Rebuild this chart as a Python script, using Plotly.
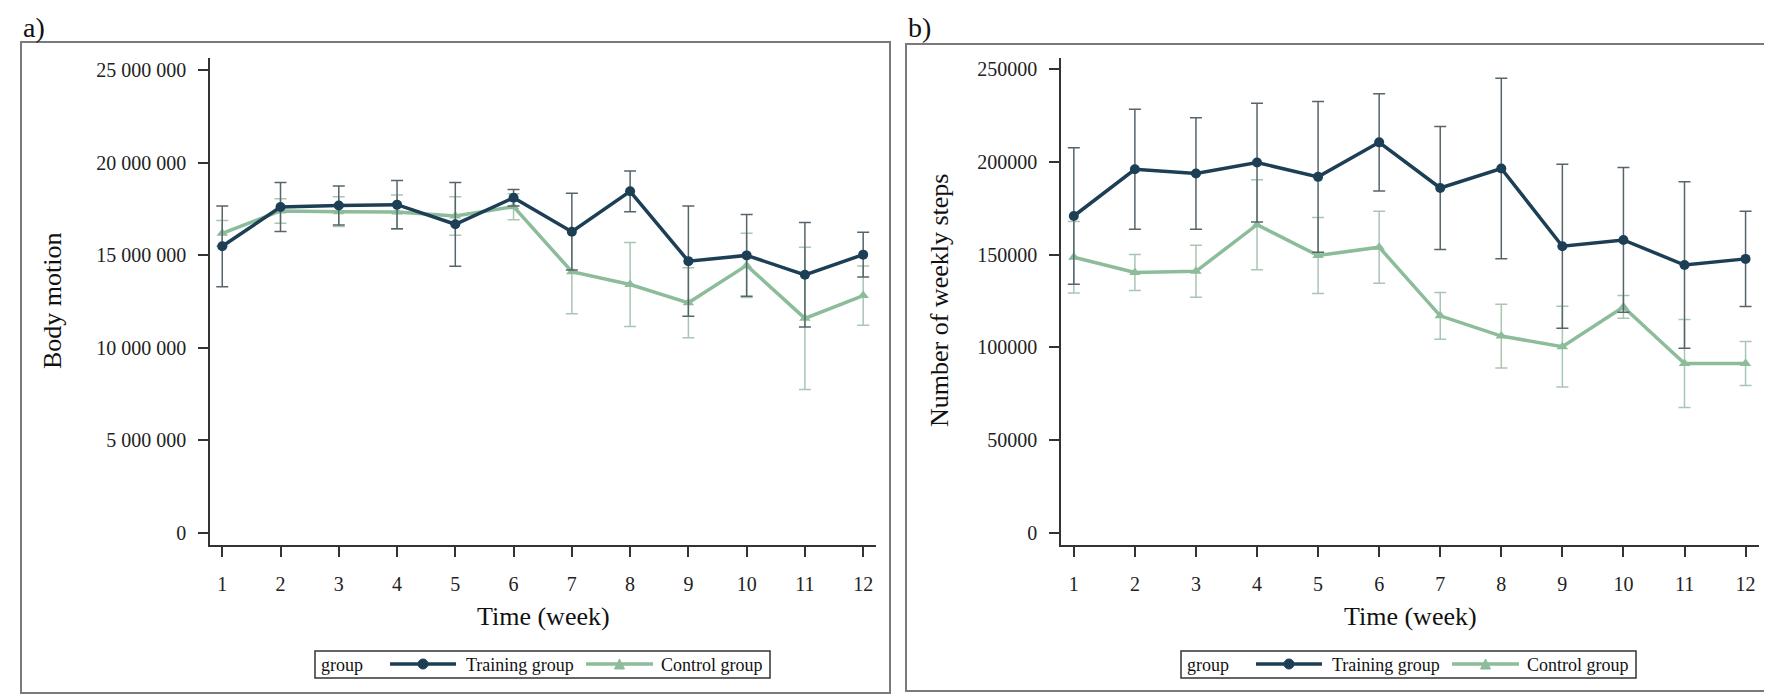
import plotly.graph_objects as go
from plotly.subplots import make_subplots

weeks = list(range(1, 13))

# body motion (a)
motion_training = [15.48e6, 17.60e6, 17.68e6, 17.73e6, 16.67e6, 18.10e6,
                   16.27e6, 18.45e6, 14.68e6, 14.99e6, 13.94e6, 15.03e6]
motion_training_err = [2.18e6, 1.32e6, 1.05e6, 1.30e6, 2.26e6, 0.45e6,
                       2.07e6, 1.10e6, 2.97e6, 2.21e6, 2.82e6, 1.21e6]
motion_control = [16.18e6, 17.39e6, 17.35e6, 17.33e6, 17.12e6, 17.62e6,
                  14.11e6, 13.42e6, 12.43e6, 14.45e6, 11.59e6, 12.82e6]
motion_control_err = [0.70e6, 0.66e6, 0.80e6, 0.92e6, 1.04e6, 0.70e6,
                      2.27e6, 2.27e6, 1.89e6, 1.73e6, 3.84e6, 1.60e6]

# weekly steps (b)
steps_training = [170800, 196000, 193700, 199600, 191900, 210500,
                  185900, 196400, 154500, 157900, 144400, 147700]
steps_training_err = [36800, 32300, 30000, 32000, 40600, 26200,
                      33200, 48600, 44200, 39000, 44800, 25700]
steps_control = [148600, 140400, 141000, 166100, 149500, 154000,
                 117000, 106100, 100400, 121800, 91300, 91300]
steps_control_err = [19300, 9700, 14000, 24200, 20500, 19400,
                     12600, 17200, 21800, 6100, 23700, 11900]

group_names = ["Training group", "Control group"]

W, H = 1772, 694
FONT = "Liberation Serif"
DARK = "#1d3f56"
DARK_ERR = "#56656c"
GREEN = "#8cbc9a"
GREEN_ERR = "#a9c6b3"


def px(x):
    return x / W


def py(y):
    return 1 - y / H


fig = make_subplots(rows=1, cols=2)

panels = [
    (1, motion_training, motion_training_err, motion_control, motion_control_err),
    (2, steps_training, steps_training_err, steps_control, steps_control_err),
]
for col, tr, tr_err, ct, ct_err in panels:
    fig.add_trace(go.Scatter(
        x=weeks, y=ct, name=group_names[1], mode="lines+markers",
        line=dict(color=GREEN, width=3.5),
        marker=dict(symbol="triangle-up", size=10, color=GREEN),
        error_y=dict(type="data", array=ct_err, color=GREEN_ERR, thickness=1.5, width=6),
        showlegend=False), row=1, col=col)
    fig.add_trace(go.Scatter(
        x=weeks, y=tr, name=group_names[0], mode="lines+markers",
        line=dict(color=DARK, width=3.5),
        marker=dict(symbol="circle", size=10, color=DARK),
        error_y=dict(type="data", array=tr_err, color=DARK_ERR, thickness=1.5, width=6),
        showlegend=False), row=1, col=col)

axis_common = dict(showgrid=False, zeroline=False, showline=True, linecolor="#333333",
                   linewidth=1.5, ticks="outside", tickcolor="#333333", tickwidth=1.5,
                   ticklen=10, tickfont=dict(family=FONT, size=20, color="#222222"))

ydom = [py(537), py(50)]
fig.update_xaxes(axis_common, range=[0.79, 12.22], tickvals=weeks, ticklabelstandoff=10)
fig.update_xaxes(domain=[px(202), px(868)], row=1, col=1)
fig.update_xaxes(domain=[px(1053), px(1751)], row=1, col=2)
fig.update_yaxes(axis_common, domain=ydom, ticklabelstandoff=8)
fig.update_yaxes(range=[-648000, 25648000], dtick=5000000, tickformat=",d", row=1, col=1)
fig.update_yaxes(range=[-6490, 255950], dtick=50000, tickformat="d", row=1, col=2)

shapes = []
annotations = []

# panel frames and labels
for (x0, y0, x1, y1), label in [((13, 34, 882, 685), "a)"), ((898, 36, 1765, 683), "b)")]:
    shapes.append(dict(type="rect", xref="paper", yref="paper", x0=px(x0), x1=px(x1),
                       y0=py(y1), y1=py(y0), line=dict(color="#7a7a7a", width=2)))
    annotations.append(dict(text=label, xref="paper", yref="paper", x=px(x0), y=py(19),
                            xanchor="left", yanchor="middle", showarrow=False,
                            font=dict(family=FONT, size=28, color="#111111")))

# axis titles
for xc, yc, txt, ang in [(44, 293, "Body motion", -90), (931, 293, "Number of weekly steps", -90),
                         (535, 608, "Time (week)", 0), (1402, 608, "Time (week)", 0)]:
    annotations.append(dict(text=txt, xref="paper", yref="paper", x=px(xc), y=py(yc),
                            xanchor="center", yanchor="middle", showarrow=False, textangle=ang,
                            font=dict(family=FONT, size=26, color="#111111")))

# legends
for off in [0, 866]:
    shapes.append(dict(type="rect", xref="paper", yref="paper", x0=px(307 + off), x1=px(762 + off),
                       y0=py(670), y1=py(643), line=dict(color="#333333", width=1.5)))
    annotations.append(dict(text="group", xref="paper", yref="paper", x=px(311 + off), y=py(657),
                            xanchor="left", yanchor="middle", showarrow=False,
                            font=dict(family=FONT, size=18, color="#111111")))
    for (l0, l1, tx), name, col, sym in [((382, 448, 456), group_names[0], DARK, "circle"),
                                          ((578, 645, 651), group_names[1], GREEN, "triangle")]:
        shapes.append(dict(type="line", xref="paper", yref="paper", x0=px(l0 + off), x1=px(l1 + off),
                           y0=py(656), y1=py(656), line=dict(color=col, width=3.5)))
        mx = (l0 + l1) / 2 + off
        if sym == "circle":
            shapes.append(dict(type="circle", xref="paper", yref="paper", x0=px(mx - 5), x1=px(mx + 5),
                               y0=py(661), y1=py(651), fillcolor=col, line=dict(color=col, width=1)))
        else:
            path = "M %f %f L %f %f L %f %f Z" % (px(mx - 5), py(661), px(mx + 5), py(661), px(mx), py(651))
            shapes.append(dict(type="path", xref="paper", yref="paper", path=path,
                               fillcolor=col, line=dict(color=col, width=1)))
        annotations.append(dict(text=name, xref="paper", yref="paper", x=px(tx + off), y=py(657),
                                xanchor="left", yanchor="middle", showarrow=False,
                                font=dict(family=FONT, size=18, color="#111111")))

fig.update_layout(width=W, height=H, margin=dict(l=0, r=0, t=0, b=0),
                  plot_bgcolor="white", paper_bgcolor="white", separators=". ",
                  shapes=shapes, annotations=annotations, showlegend=False)

fig.write_html("out.html")
